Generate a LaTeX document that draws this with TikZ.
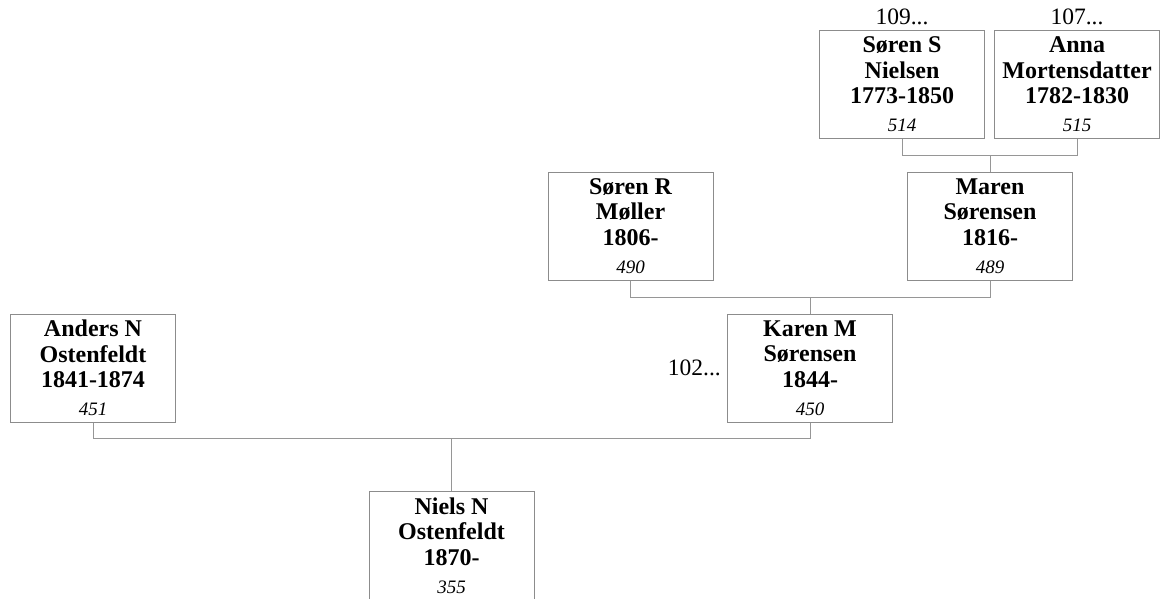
\documentclass[tikz,border=0pt]{standalone}
\usepackage{fontspec}
\setmainfont{Liberation Serif}
\usetikzlibrary{positioning,calc}
\definecolor{boxgray}{RGB}{140,140,140}
\definecolor{linegray}{RGB}{150,150,150}
\newcommand{\pnum}[1]{\\[2.5pt]{\mdseries\itshape\fontsize{19}{22}\selectfont #1}}

\begin{document}
\begin{tikzpicture}[x=1pt, y=-1pt,
    person/.style={draw=boxgray, line width=1pt, minimum width=165pt,
        minimum height=108pt, inner sep=0pt, align=center,
        font=\bfseries\fontsize{24}{25.5}\selectfont},
    link/.style={draw=linegray, line width=1pt},
    ref/.style={font=\fontsize{23.5}{25}\selectfont, inner sep=0pt}]
    \useasboundingbox (0,0) rectangle (1166,598);

    % Grandparents of Karen
    \node[person] (sorenS) at (902,84.5) {Søren S\\Nielsen\\1773-1850\pnum{514}};
    \node[person] (anna) at (1077,84.5) {Anna\\Mortensdatter\\1782-1830\pnum{515}};
    \node[ref, above=5pt of sorenS] (refSoren) {109...};
    \node[ref, above=5pt of anna] (refAnna) {107...};

    % Parents of Karen
    \node[person] (sorenR) at (630.5,226) {Søren R\\Møller\\1806-\pnum{490}};
    \node[person] (maren) at (990,226) {Maren\\Sørensen\\1816-\pnum{489}};

    % Parents of Niels
    \node[person] (anders) at (93,368) {Anders N\\Ostenfeldt\\1841-1874\pnum{451}};
    \node[person] (karen) at (810,368) {Karen M\\Sørensen\\1844-\pnum{450}};
    \node[ref, left=6pt of karen] (refKaren) {102...};

    % Niels
    \node[person] (niels) at (451.5,545.5) {Niels N\\Ostenfeldt\\1870-\pnum{355}};

    % Connectors
    \coordinate (jMaren) at (maren.north |- 0,155);
    \coordinate (jKaren) at (karen.north |- 0,297);
    \coordinate (jNiels) at (niels.north |- 0,438);
    \draw[link] (sorenS.south) |- (jMaren) -- (maren.north);
    \draw[link] (anna.south) |- (jMaren);
    \draw[link] (sorenR.south) |- (jKaren) -- (karen.north);
    \draw[link] (maren.south) |- (jKaren);
    \draw[link] (anders.south) |- (jNiels) -- (niels.north);
    \draw[link] (karen.south) |- (jNiels);
\end{tikzpicture}
\end{document}
